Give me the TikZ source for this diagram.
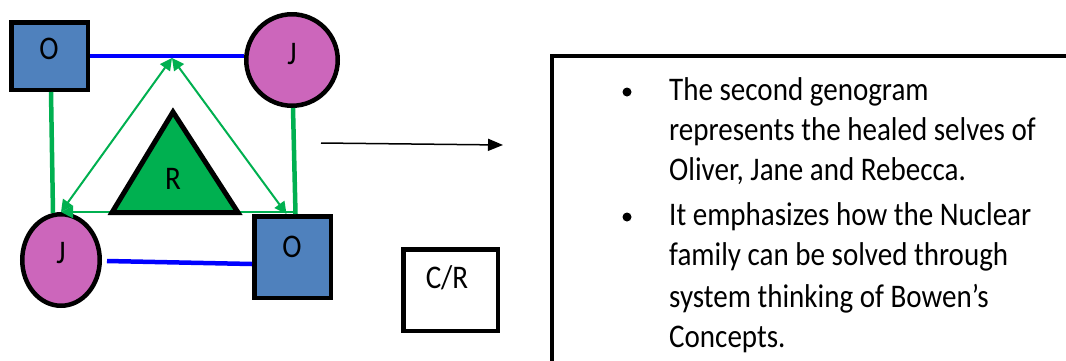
\documentclass[tikz,border=0pt]{standalone}
\usepackage{fontspec}
\setmainfont{Carlito}
\newfontfamily\bodyfont[FakeStretch=0.88]{Carlito}
\usetikzlibrary{arrows.meta,shapes.geometric,calc}
\definecolor{sqblue}{HTML}{4F81BD}
\definecolor{jpink}{HTML}{CC66BB}
\definecolor{ggreen}{HTML}{00B050}
\definecolor{lblue}{HTML}{0000FF}
\begin{document}
\begin{tikzpicture}[x=1pt,y=-1pt,
  male/.style={rectangle, draw=black, line width=4.5pt, fill=sqblue, inner sep=0pt},
  female/.style={ellipse, draw=black, line width=4.5pt, fill=jpink, inner sep=0pt},
  lbl/.style={font=\bodyfont\fontsize{33}{36}\selectfont, inner sep=0pt, anchor=base},
  txt/.style={font=\bodyfont\fontsize{33}{41}\selectfont, inner sep=0pt, anchor=base west},
  bondline/.style={lblue, line width=4.5pt},
  tie/.style={ggreen, line width=4.5pt},
  thinarrow/.style={ggreen, line width=2pt, {Triangle[length=12pt,width=12pt]}-{Triangle[length=12pt,width=12pt]}},
  bul/.style={circle, fill=black, minimum size=9pt, inner sep=0pt}
]
\path[use as bounding box, fill=white] (0,0) rectangle (1066,360);
\clip (0,0) rectangle (1066,360);

% family members
\node[male, minimum width=76.5pt, minimum height=67.5pt] (o1) at (49.5,56) {};
\node[female, minimum width=91.5pt, minimum height=91.5pt] (j1) at (292,60) {};
\node[female, minimum width=77.5pt, minimum height=91.5pt] (j2) at (61,260) {};
\node[male, minimum width=76.5pt, minimum height=81.5pt] (o2) at (292.5,257) {};

% relationship lines
\draw[bondline] (o1.east) -- (o1.east -| j1.west);
\draw[bondline] ($(j2.east)+(5,1)$) -- ($(o2.west)+(0,7)$);
\draw[tie] ($(o1.south)+(1.5,0)$) -- ($(j2.north)+(-8,1)$);
\draw[tie] ($(j1.south)+(1,0)$) -- ($(o2.north)+(3,0)$);

% triangle of arrows
\coordinate (apex) at (172,58);
\draw[ggreen, line width=2pt, -{Triangle[length=12pt,width=12pt]}] ($(o2.north)+(0,-2)$) -- (j2.north);
\draw[thinarrow] (apex) -- (j2.north);
\draw[thinarrow] (apex) -- ($(o2.north)+(-6,0)$);

% child R
\draw[fill=ggreen, line width=5pt, line join=miter] (112,212.5) -- (173,112) -- (238,212.5) -- cycle;
\node[lbl] (rl) at (173,189) {R};

% labels
\node[lbl] (o1l) at (49,59) {O};
\node[lbl] (j1l) at (292,64) {J};
\node[lbl] (j2l) at (61,263) {J};
\node[lbl] (o2l) at (292,257) {O};

% arrow
\coordinate (as) at (321,143);
\coordinate (ae) at (503,145);
\draw[line width=1.5pt, -{Triangle[length=15pt,width=12pt]}] (as) -- (ae);

% C/R box
\node[draw, line width=4.5pt, minimum width=94.5pt, minimum height=81.5pt, inner sep=0pt] (cr) at (450.5,290) {};
\node[lbl] (crl) at (447,288) {C/R};

% text box
\node[draw, line width=4.5pt, anchor=north west, outer sep=0pt, minimum width=700pt, minimum height=500pt] (tb) at (552,56) {};
\node[bul] (b1) at (627,92) {};
\node[bul] (b2) at (627,217) {};
\node[txt] (l1) at (669,100) {The second genogram};
\node[txt] (l2) at (669,140) {represents the healed selves of};
\node[txt] (l3) at (669,180) {Oliver, Jane and Rebecca.};
\node[txt] (l4) at (669,225) {It emphasizes how the Nuclear};
\node[txt] (l5) at (669,265) {family can be solved through};
\node[txt] (l6) at (669,307) {system thinking of Bowen’s};
\node[txt] (l7) at (669,347) {Concepts.};
\end{tikzpicture}
\end{document}
